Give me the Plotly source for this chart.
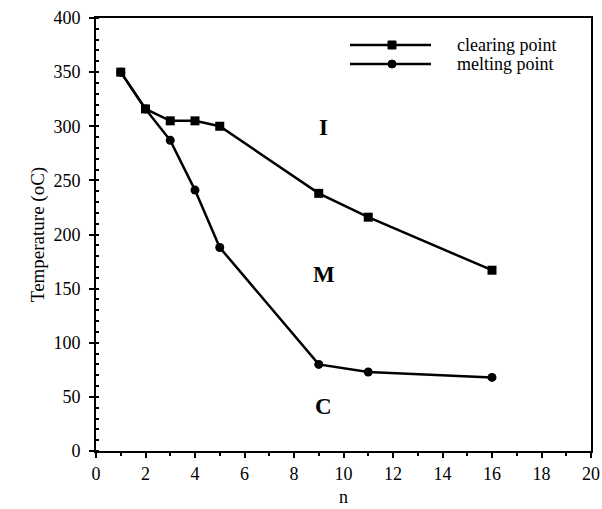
import plotly.graph_objects as go

n_values = [1, 2, 3, 4, 5, 9, 11, 16]
clearing_point = [350, 316, 305, 305, 300, 238, 216, 167]
melting_point = [350, 316, 287, 241, 188, 80, 73, 68]
x_ticks = list(range(0, 21, 2))
y_ticks = list(range(0, 401, 50))
phase_labels = ["I", "M", "C"]
phase_x = [9.2, 9.2, 9.2]
phase_y = [299, 163, 41]

FONT = "Liberation Serif, Times New Roman, serif"

W, H = 602, 509
L, R, T, B = 96, 11, 18, 58
PW = W - L - R
PH = H - T - B

fig = go.Figure()
fig.add_trace(go.Scatter(x=n_values, y=clearing_point, mode="lines+markers",
                         name="clearing point",
                         line=dict(color="black", width=2.5),
                         marker=dict(symbol="square", size=9, color="black")))
fig.add_trace(go.Scatter(x=n_values, y=melting_point, mode="lines+markers",
                         name="melting point",
                         line=dict(color="black", width=2.5),
                         marker=dict(symbol="circle", size=9, color="black")))

for t, xx, yy in zip(phase_labels, phase_x, phase_y):
    fig.add_annotation(x=xx, y=yy, text=f"<b>{t}</b>", showarrow=False,
                       font=dict(family=FONT, size=23, color="black"))

# manual legend, positions given in page pixels
def px(xp):
    return (xp - L) / PW
def py(yp):
    return (H - B - yp) / PH

legend_rows = [("clearing point", 45, "rect"), ("melting point", 64, "circle")]
for label, ypix, shp in legend_rows:
    fig.add_shape(type="line", xref="paper", yref="paper",
                  x0=px(350), x1=px(431), y0=py(ypix), y1=py(ypix),
                  line=dict(color="black", width=2.5))
    fig.add_shape(type=shp, xref="paper", yref="paper",
                  x0=px(388), x1=px(396), y0=py(ypix + 4), y1=py(ypix - 4),
                  line=dict(color="black", width=1), fillcolor="black")
    fig.add_annotation(xref="paper", yref="paper", x=px(455), y=py(ypix),
                       text=label, showarrow=False, xanchor="left", yanchor="middle",
                       font=dict(family=FONT, size=18, color="black"))

fig.update_layout(
    width=W, height=H,
    margin=dict(l=L, r=R, t=T, b=B),
    paper_bgcolor="white", plot_bgcolor="white",
    showlegend=False,
    font=dict(family=FONT, size=16, color="black"),
)
fig.update_xaxes(range=[0, 20], tickvals=x_ticks, ticks="outside", ticklen=5,
                 tickwidth=2, tickcolor="black", automargin=False,
                 minor=dict(dtick=1, ticks="outside", ticklen=3, tickwidth=2, tickcolor="black"),
                 showline=True, linewidth=2, linecolor="black", mirror=True,
                 showgrid=False, zeroline=False,
                 title=dict(text="n", font=dict(family=FONT, size=18), standoff=8),
                 tickfont=dict(family=FONT, size=18))
fig.update_yaxes(range=[0, 400], tickvals=y_ticks, ticks="outside", ticklen=5,
                 tickwidth=2, tickcolor="black", automargin=False,
                 ticklabelstandoff=5,
                 minor=dict(dtick=10, ticks="inside", ticklen=3, tickwidth=2, tickcolor="black"),
                 showline=True, linewidth=2, linecolor="black", mirror=True,
                 showgrid=False, zeroline=False,
                 title=dict(text="Temperature (oC)", font=dict(family=FONT, size=19), standoff=4),
                 tickfont=dict(family=FONT, size=18))

fig.write_html("out.html", config={"displayModeBar": False},
               post_script="document.body.style.margin='0';document.body.style.overflow='hidden';")
